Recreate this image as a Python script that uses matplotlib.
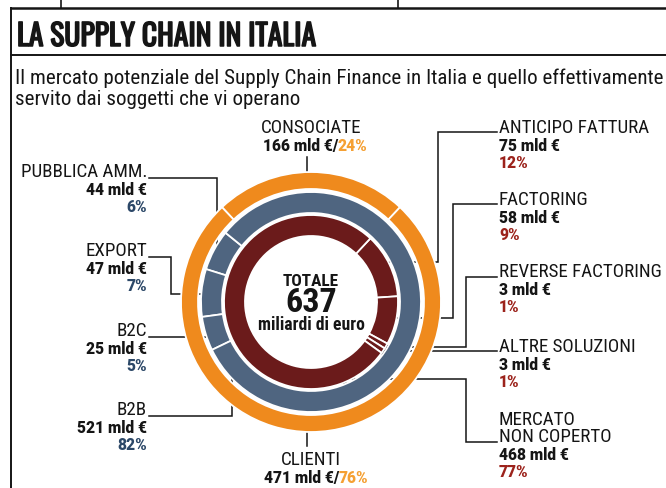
import matplotlib
matplotlib.use("Agg")
import matplotlib.pyplot as plt
from matplotlib import patheffects

# quote di mercato (percentuali) per anello
outer_labels = ["CONSOCIATE", "CLIENTI"]
outer_values = [166, 471]
outer_pct = [24, 76]

mid_labels = ["PUBBLICA AMM.", "EXPORT", "B2C", "B2B"]
mid_values = [44, 47, 25, 521]
mid_pct = [6, 7, 5, 82]

inner_labels = ["ANTICIPO FATTURA", "FACTORING", "REVERSE FACTORING",
                "ALTRE SOLUZIONI", "MERCATO\nNON COPERTO"]
inner_values = [75, 58, 3, 3, 468]
inner_pct = [12, 9, 1, 1, 77]

totale = 637

ORANGE = "#ef8a1d"
BLUE = "#4f6580"
RED = "#6b1b1b"
PCT_ORANGE = "#f5a033"
PCT_BLUE = "#2c4868"
PCT_RED = "#9c231c"
INK = "#151515"

FONT = ["Roboto Condensed", "Archivo Narrow", "DejaVu Sans"]
TITLE_FONT = ["Oswald", "Barlow Condensed", "DejaVu Sans"]
VALUE_FONT = ["Roboto", "DejaVu Sans"]
plt.rcParams["font.family"] = FONT

W, H = 666, 489
fig = plt.figure(figsize=(W / 100, H / 100), dpi=100)
fig.patch.set_facecolor("white")
renderer = fig.canvas.get_renderer()


def fit(t, width):
    # porta il testo alla larghezza voluta (in pixel)
    w = t.get_window_extent(renderer).width
    t.set_fontsize(t.get_fontsize() * width / w)
    return t.get_fontsize()


# assi in pixel per testi e linee
ax = fig.add_axes([0, 0, 1, 1])
ax.set_xlim(0, W)
ax.set_ylim(H, 0)
ax.axis("off")

# anelli
cx, cy, box = 311, 303, 150
pax = fig.add_axes([(cx - box) / W, (H - cy - box) / H, 2 * box / W, 2 * box / H])
wp = dict(edgecolor="white", linewidth=1.3)
pax.pie(outer_pct, radius=130, startangle=90 - outer_pct[0] * 3.6 / 2,
        colors=[ORANGE] * 2, wedgeprops=dict(width=17, **wp))
pax.pie(mid_pct, radius=110, startangle=141,
        colors=[BLUE] * 4, wedgeprops=dict(width=21, **wp))
pax.pie(inner_pct, radius=87, startangle=47, counterclock=False,
        colors=[RED] * 5, wedgeprops=dict(width=21, **wp))
pax.set_xlim(-box, box)
pax.set_ylim(-box, box)
pax.set_aspect("equal")
pax.axis("off")

# cornice
ax.plot([11, W], [9, 9], color=INK, lw=1.8)
ax.plot([11, 11], [9, H], color=INK, lw=1.4)
ax.plot([11, W], [56, 56], color=INK, lw=1.4)
ax.plot([61, 61], [0, 9], color=INK, lw=1.2)
ax.plot([398, 398], [0, 9], color=INK, lw=1.2)

title = ax.text(17, 47, "LA SUPPLY CHAIN IN ITALIA", fontsize=22, fontweight="bold",
                family=TITLE_FONT, color=INK, ha="left", va="baseline",
                path_effects=[patheffects.withStroke(linewidth=1.1, foreground=INK)])
fit(title, 299)
sub1 = ax.text(15, 84, "Il mercato potenziale del Supply Chain Finance in Italia e quello effettivamente",
               fontsize=14, color=INK, ha="left", va="baseline")
sub_fs = fit(sub1, 653)
ax.text(15, 105, "servito dai soggetti che vi operano",
        fontsize=sub_fs, color=INK, ha="left", va="baseline")

# centro
t = ax.text(cx, 281, "TOTALE", fontsize=12, fontweight="black", ha="center", va="center", color=INK)
fit(t, 56)
t = ax.text(cx, 303, str(totale), fontsize=24, fontweight="black", ha="center", va="center", color=INK)
fit(t, 52)
t = ax.text(cx, 325, "miliardi di euro", fontsize=11, fontweight="black", ha="center", va="center", color=INK)
fit(t, 106)

# dimensioni dei testi delle etichette
probe = ax.text(0, 0, "ANTICIPO FATTURA", fontsize=12)
NAME_FS = fit(probe, 150)
probe.remove()
VAL = dict(fontsize=11.2, fontweight="black", family=VALUE_FONT, va="center")


def label(x, y, name, value, pct, pct_color, ha):
    lines = name.split("\n")
    for i, line in enumerate(lines):
        ax.text(x, y + i * 17, line, fontsize=NAME_FS, ha=ha, va="center", color=INK)
    y2 = y + (len(lines) - 1) * 17 + 18
    ax.text(x, y2, f"{value} mld €", ha=ha, color=INK, **VAL)
    ax.text(x, y2 + 17, f"{pct}%", ha=ha, color=pct_color, **VAL)


def leader(xs, ys):
    ax.plot(xs, ys, color=INK, lw=1.1, solid_joinstyle="miter")
    ax.plot(xs[-1], ys[-1], "o", color=INK, ms=5)


# etichette a sinistra (canali)
left_y = [172, 251, 331, 410]
for name, v, p, y in zip(mid_labels, mid_values, mid_pct, left_y):
    label(147, y, name, v, p, PCT_BLUE, "right")
leader([149, 217, 217], [179, 179, 255])
leader([149, 171, 171, 207], [258, 258, 295, 295])
leader([149, 212], [338, 338])
leader([149, 232, 232], [417, 417, 372])

# etichette a destra (strumenti)
right_y = [128, 200, 272, 347, 420]
for name, v, p, y in zip(inner_labels, inner_values, inner_pct, right_y):
    label(499, y, name, v, p, PCT_RED, "left")
leader([497, 438, 438, 383], [133, 133, 263, 263])
leader([497, 453, 453, 391], [205, 205, 319, 319])
leader([497, 466, 466, 384], [278, 278, 348, 348])
leader([497, 384], [352, 352])
leader([497, 466, 466, 343], [443, 443, 380, 380])

# etichette sopra e sotto (controparti)
ax.text(cx, 128, outer_labels[0], fontsize=NAME_FS, ha="center", va="center", color=INK)
ax.text(338, 146, f"{outer_values[0]} mld €/", ha="right", color=INK, **VAL)
ax.text(338, 146, f"{outer_pct[0]}%", ha="left", color=PCT_ORANGE, **VAL)
leader([307, 307], [158, 181])

ax.text(cx, 460, outer_labels[1], fontsize=NAME_FS, ha="center", va="center", color=INK)
ax.text(339, 478, f"{outer_values[1]} mld €/", ha="right", color=INK, **VAL)
ax.text(339, 478, f"{outer_pct[1]}%", ha="left", color=PCT_ORANGE, **VAL)
leader([307, 307], [447, 427])

fig.savefig("out.png", dpi=100, facecolor="white")
